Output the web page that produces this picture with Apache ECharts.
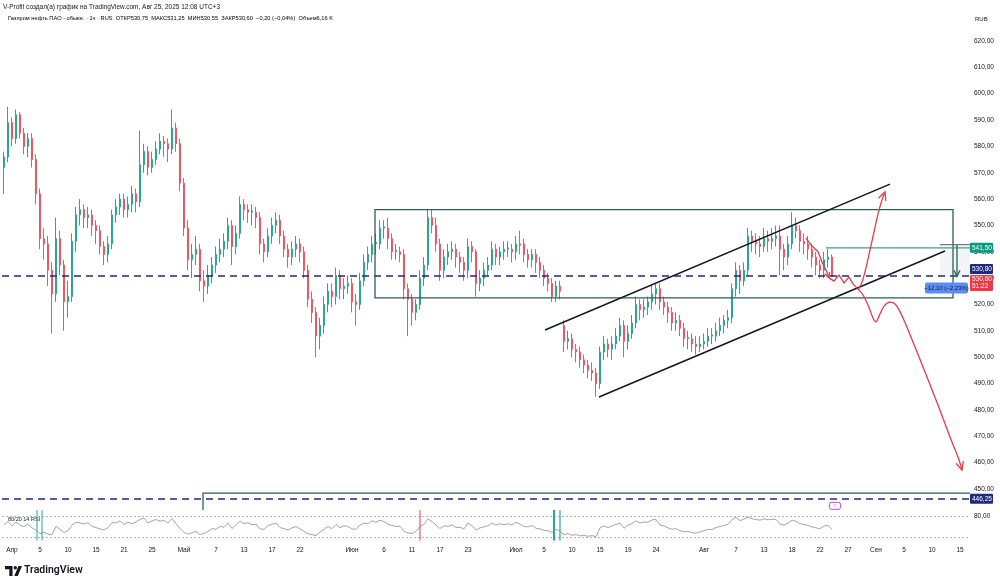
<!DOCTYPE html>
<html><head><meta charset="utf-8">
<script src="https://cdn.jsdelivr.net/npm/echarts@6/dist/echarts.min.js"></script>
<style>html,body{margin:0;padding:0;background:#fff}#c{width:1000px;height:585px}</style>
</head><body><div id="c"></div>
<script>
// ---------- DATA ----------
const SLOTS = 242; // time slots on the x axis (candles + empty future space)
const tickIdx  = [2,9,16,23,30,37,45,53,60,67,74,87,95,102,109,116,128,135,142,149,156,163,175,183,190,197,204,211,218,225,232,239];
const tickText = ['Апр','5','10','15','21','25','Май','7','13','17','22','Июн','6','11','17','23','Июл','5','10','15','19','24','Авг','7','13','18','22','27','Сен','5','10','15'];
const priceTicks = [450,460,470,480,490,500,510,520,530,540,550,560,570,580,590,600,610,620];
// candles: [open, close, low, high]
const candles = [
[572,576,562,578],[576,589,574,595],[589,583,580,591],[583,592,581,594],[592,585,583,593],[585,580,577,587],[580,583,576,585],[583,575,572,585],
[575,562,558,577],[562,545,541,564],[545,543,537,549],[543,533,527,546],[533,524,509,536],[524,545,521,553],[545,535,531,548],[535,521,510,537],
[521,523,515,529],[523,544,521,547],[544,554,540,557],[554,556,550,560],[556,553,549,558],[553,554,549,557],[554,550,546,556],[550,548,543,552],
[548,542,539,550],[542,539,535,544],[539,543,536,546],[543,554,541,556],[554,557,551,560],[557,560,554,562],[560,556,553,562],[556,558,553,561],
[558,562,555,565],[562,559,555,564],[559,573,557,586],[573,578,570,581],[578,572,569,580],[572,575,570,578],[575,579,573,582],[579,582,577,585],
[582,581,576,584],[581,579,574,583],[579,587,577,594],[587,581,578,589],[581,566,563,583],[566,549,546,568],[549,537,533,552],[537,539,530,543],
[539,541,535,546],[541,529,525,543],[529,527,521,533],[527,531,524,535],[531,535,528,538],[535,539,532,542],[539,541,536,545],[541,544,538,547],
[544,550,541,553],[550,542,535,552],[542,547,539,550],[547,558,545,561],[558,556,552,560],[556,555,551,558],[555,555.5,550,558],[555,553,549,557],
[553,543,539,555],[543,540,536,545],[540,546,538,549],[546,550,543,553],[550,552,547,555],[552,546,543,554],[546,541,538,548],[541,538,534,543],
[538,541,535,544],[541,543,538,546],[543,540,536,545],[540,533,530,542],[533,522,519,535],[522,517,513,525],[517,508,500,519],[508,512,503,515],
[512,520,509,523],[520,525,517,528],[525,523,519,528],[523,531,520,534],[531,526,522,533],[526,527,522,530],[527,528,524,531],[528,521,517,530],
[521,520,512,524],[520,529,518,532],[529,536,527,539],[536,539,533,542],[539,543,536,546],[543,543.5,539,547],[543,549,541,552],[549,549.5,545,552],
[549,545,541,553],[545,540,537,547],[540,540.5,537,543],[540,539,536,542],[539,526,522,541],[526,522,508,528],[522,517,512,524],[517,520,514,522],
[520,530,518,533],[530,535,527,538],[535,553,533,556],[553,550,547,556],[550,543,540,553],[543,533,529,545],[533,538,530,541],[538,540,535,543],
[540,541,537,544],[541,538,534,543],[538,536,532,540],[536,533,529,538],[533,542,530,545],[542,540,536,544],[540,528,523,541],[528,530,525,533],
[530,533,527,536],[533,535,531,538],[535,541,533,544],[541,538,535,543],[538,540,535,542],[540,541,537,544],[541,541.5,538,544],[541,540,536,543],
[540,543,537,546],[543,542.5,539,548],[543,539,536,545],[539,537,534,541],[537,539,534,541],[539,536,532,541],[536,533,530,538],[533,530,527,535],
[530,528,525,532],[528,523,521,530],[523,527,521,529],[527,525,522,529],[512,506,502,514],[506,507,503,510],[507,503,500,509],[503,502,498,505],
[502,499,496,504],[499,497,494,501],[497,495,492,499],[495,494,491,498],[494,490,485,496],[490,502,488,504],[502,505,499,508],[505,503,500,507],
[503,505,499,508],[505,508,503,511],[508,512,506,515],[512,506,500,514],[506,509,503,512],[509,513,507,516],[513,520,511,523],[520,518,514,522],
[518,519,515,522],[519,521,516,523],[521,524,518,527],[524,526,520,528],[526,521,518,528],[521,519,516,523],[519,517,513,521],[517,513,510,519],
[513,514,510,517],[514,511,508,516],[511,507,504,513],[507,507.5,503,510],[507,505,502,509],[505,504,501,508],[504,505,502,508],[505,506,503,509],
[506,508,504,511],[508,508.5,505,511],[508,510,506,513],[510,512,508,515],[512,514,509,516],[514,515,511,518],[515,526,513,528],[526,533,523,536],
[533,529,524,535],[529,533,527,536],[533,546,531,549],[546,544,540,548],[544,543,539,547],[543,542,538,546],[542,545,540,549],[545,544,540,548],
[544,545,541,549],[545,546,542,550],[546,541,531,550],[541,538,533,543],[538,543,535,546],[543,550,541,555],[550,548,545,553],[548,544,540,550],
[544,543,539,547],[543,541,537,546],[541,538,534,543],[538,535,531,540],[535,533,530,537],[533,537,530,540],[537,538,534,541],[538,530.6,530.55,539]
];
const rsi = [
55,64,52,63,54,50,57,46, 40,30,34,28,27, 50, 42,33,38, 54,62,60,57,61, 50,47,43,40, 47,61,60,66,56,62,58,63,
70,74,60,66,70,65,68,60,73,58, 44,34,28,32,36,27,30, 36,44,42,50,48,60,44,55,66, 58,61,55,57, 43,42, 52,56,60,
47,44,40,46, 50,43,37, 29,27,24, 34,42,50,44,56, 47,52,50,43,42, 54,60,58,66,62,68,64, 56,53,50,51, 36,32,30,36,
50,56,72,64, 54,44, 52,50,55,47,48,43,60,52, 40,46,49,52, 60,54,58,55,58,54,62,57, 50,49,53,45,43,39,38,33,42,37,
26,30,25,27,23,25,22,24,21, 46,52,47,52,56,60, 45, 54,58,66,60,63,62,69,70, 54,52,46,42,44,38,35,36,32,31,
35,38,42,41,47,50,53,56, 70,76,67,71,77, 72,70,68,72,69,71,70, 57,54,60, 68,65,58, 56,53,49,46,44,51,53,42
];
// horizontal levels
const dashedLevels = [530.80, 446.25];
const lastPrice = 530.60, greenLevel = 541.50;
// drawings, in [slot, price] coordinates
const rangeBox = [[92.75, 556.0], [237.25, 522.5]];
const upperChannel = [[135.25, 510.3], [221.5, 565.7]];
const lowerChannel = [[148.75, 484.9], [235.25, 540.3]];
const greenLine = [[205.5, 541.5], [241.5, 541.5]];
const lowerBox = [[49.75, 442.0], [49.75, 448.45], [241.5, 448.45]];
const position = {x0: 234, x1: 241.5, arrowX: 238.25, top: 542.7, bottom: 530.6, text: '−12,10 (−2,23%)'};
const redPathA = [[200.5,545.2],[202,542.2],[203.5,540.0],[204.5,536.1],[205.5,533.1],[206.25,530.1]];
const redZigzag = [[206.25,530.1],[207.5,528.9],[208.75,531.2],[210,528.2],[211.25,530.4],[212.25,527.8],[213.25,526.3]];
const redDown = [[213.25,526.3],[214.75,523.6],[216,519.8],[217.25,514.9],[218,513.4],[218.75,515.6],[220,519.4],[221.5,520.9],[223,519.8],[224.75,514.9],[227.25,505.8],[230.25,494.4],[233.5,481.9],[236.5,469.7],[238.5,462.1],[239.5,457.2]];
const redUp = [[213.5,525.5],[214.5,528.5],[215.5,533.9],[216.5,540.7],[217.5,547.5],[218.5,554.3],[219.5,559.7],[220.25,562.7]];
const eventMark = [207.75, 443.6];
const rsiSignals = [{x:8.25,c:'#22ab94',w:1},{x:9.5,c:'#22ab94',w:1},{x:104,c:'#f23645',w:1},{x:137.5,c:'#22ab94',w:2},{x:139,c:'#22ab94',w:1.2}];

// ---------- CHART ----------
const cats = Array.from({length: SLOTS}, (_, i) => String(i));
const labelMap = {}; tickIdx.forEach((k, j) => labelMap[k] = tickText[j]);
const fmt = v => v.toFixed(2).replace('.', ',');
const FONT = '"Liberation Sans", Arial, sans-serif';
const RED = '#e5394b', TEAL = '#2e5d5d', NAVY = '#1f2a7c';

function arrowHead(tip, from, len, color, w) {
  const a = Math.atan2(tip[1] - from[1], tip[0] - from[0]);
  const p1 = [tip[0] - len * Math.cos(a - 0.45), tip[1] - len * Math.sin(a - 0.45)];
  const p2 = [tip[0] - len * Math.cos(a + 0.45), tip[1] - len * Math.sin(a + 0.45)];
  return {type: 'polyline', shape: {points: [p1, tip, p2]}, style: {stroke: color, lineWidth: w, fill: null}};
}
function priceTag(y, text, bg, fg, h) {
  return [
    {type: 'rect', shape: {x: 970, y: y - 5, width: 23, height: h || 10, r: 1}, style: {fill: bg}},
    {type: 'text', style: {text: text, x: 972, y: y, fill: fg || '#fff', font: '6.5px ' + FONT, verticalAlign: 'middle'}}
  ];
}
function renderAnn(params, api) {
  const P = p => api.coord(p);
  const line = (pts, color, w, smooth) => ({type: 'polyline', shape: {points: pts.map(P), smooth: smooth || 0}, style: {stroke: color, lineWidth: w, fill: null}});
  const ch = [];
  const pTL = P([position.x0, position.top]), pBR = P([position.x1, position.bottom]);
  ch.push({type: 'rect', shape: {x: pTL[0], y: pTL[1], width: pBR[0] - pTL[0], height: pBR[1] - pTL[1]}, style: {fill: 'rgba(120,123,134,0.08)'}});
  const b0 = P(rangeBox[0]), b1 = P(rangeBox[1]);
  ch.push({type: 'rect', shape: {x: b0[0], y: b0[1], width: b1[0] - b0[0], height: b1[1] - b0[1]}, style: {stroke: TEAL, lineWidth: 1.3, fill: null}});
  ch.push(line(lowerBox, TEAL, 1.3));
  ch.push(line(greenLine, '#3f9f86', 1.3));
  ch.push(line(upperChannel, '#131722', 1.5));
  ch.push(line(lowerChannel, '#131722', 1.5));
  ch.push(line([[position.x0, position.top], [position.x1, position.top]], '#5d606b', 1));
  const aT = P([position.arrowX, position.top]), aB = P([position.arrowX, position.bottom]);
  ch.push({type: 'line', shape: {x1: aT[0], y1: aT[1], x2: aB[0], y2: aB[1]}, style: {stroke: TEAL, lineWidth: 1.3}});
  ch.push(arrowHead(aB, aT, 7, TEAL, 1.3));
  ch.push(line(redPathA, RED, 1.3, 0.2));
  ch.push(arrowHead(P(redPathA[redPathA.length - 1]), P(redPathA[redPathA.length - 2]), 6, RED, 1.3));
  ch.push(line(redZigzag, RED, 1.3));
  ch.push(line(redDown, RED, 1.3, 0.3));
  ch.push(arrowHead(P(redDown[redDown.length - 1]), P(redDown[redDown.length - 2]), 9, RED, 1.3));
  ch.push(line(redUp, RED, 1.3, 0.3));
  ch.push(arrowHead(P(redUp[redUp.length - 1]), P(redUp[redUp.length - 2]), 9, RED, 1.3));
  const lb = P([(position.x0 + position.x1) / 2 - 0.4, position.bottom]);
  ch.push({type: 'rect', shape: {x: 925, y: lb[1] + 6, width: 43, height: 11, r: 2}, style: {fill: '#5b8def'}});
  ch.push({type: 'text', style: {text: position.text, x: 946.5, y: lb[1] + 11.5, fill: '#0c1a40', font: '6px ' + FONT, align: 'center', verticalAlign: 'middle'}});
  const em = P(eventMark);
  ch.push({type: 'rect', shape: {x: em[0] - 5.5, y: em[1] - 3.5, width: 11, height: 7, r: 2}, style: {fill: '#fff', stroke: '#b04adf', lineWidth: 1}});
  ch.push({type: 'text', style: {text: '↕', x: em[0], y: em[1], fill: '#b04adf', font: '5px ' + FONT, align: 'center', verticalAlign: 'middle'}});
  const gY = P([0, greenLevel])[1];
  ch.push(...priceTag(gY, fmt(greenLevel), '#089981'));
  const nY = P([0, dashedLevels[0]])[1];
  ch.push(...priceTag(nY - 7, fmt(dashedLevels[0]), NAVY));
  const rY = P([0, lastPrice])[1];
  ch.push({type: 'rect', shape: {x: 970, y: rY - 1.5, width: 23, height: 16, r: 1}, style: {fill: '#f23645'}});
  ch.push({type: 'text', style: {text: fmt(lastPrice), x: 972, y: rY + 3, fill: '#fff', font: '6.5px ' + FONT, verticalAlign: 'middle'}});
  ch.push({type: 'text', style: {text: '51:22', x: 972, y: rY + 10, fill: '#fff', font: '6.5px ' + FONT, verticalAlign: 'middle'}});
  const lY = P([0, dashedLevels[1]])[1];
  ch.push(...priceTag(lY, fmt(dashedLevels[1]), NAVY));
  return {type: 'group', children: ch};
}
function renderRsiAnn(params, api) {
  const ch = [];
  rsiSignals.forEach(s => {
    const a = api.coord([s.x, 97]), b = api.coord([s.x, 10]);
    ch.push({type: 'line', shape: {x1: a[0], y1: a[1], x2: b[0], y2: b[1]}, style: {stroke: s.c, lineWidth: s.w}});
  });
  return {type: 'group', children: ch};
}

const chart = echarts.init(document.getElementById('c'), null, {renderer: 'canvas'});
chart.setOption({
  animation: false,
  backgroundColor: '#ffffff',
  grid: [
    {left: 2, width: 968, top: 14.65, height: 500.65},
    {left: 2, width: 968, top: 509, height: 35}
  ],
  xAxis: [
    {type: 'category', gridIndex: 0, data: cats, boundaryGap: true, show: false},
    {type: 'value', gridIndex: 0, min: -0.5, max: SLOTS - 0.5, show: false},
    {type: 'category', gridIndex: 1, data: cats, boundaryGap: true,
      axisLine: {show: false}, axisTick: {show: false}, splitLine: {show: false},
      axisLabel: {interval: (i) => labelMap[i] !== undefined, formatter: (v, i) => labelMap[i] || '',
        fontSize: 6.5, color: '#131722', margin: 3, fontFamily: FONT, hideOverlap: false}},
    {type: 'value', gridIndex: 1, min: -0.5, max: SLOTS - 0.5, show: false}
  ],
  yAxis: [
    {type: 'value', gridIndex: 0, position: 'right', min: 440, max: 630, interval: 10, scale: true,
      axisLine: {show: false}, axisTick: {show: false}, splitLine: {show: false},
      axisLabel: {margin: 4, fontSize: 6.5, color: '#131722', fontFamily: FONT, align: 'left',
        formatter: v => priceTicks.includes(Math.round(v)) ? fmt(v) : ''}},
    {type: 'value', gridIndex: 1, position: 'right', min: 0, max: 100, interval: 20,
      axisLine: {show: false}, axisTick: {show: false}, splitLine: {show: false},
      axisLabel: {margin: 4, fontSize: 6.5, color: '#131722', fontFamily: FONT, align: 'left',
        formatter: v => v === 80 ? '80,00' : ''}}
  ],
  series: [
    {type: 'candlestick', xAxisIndex: 0, yAxisIndex: 0, data: candles, barWidth: 2.4,
      itemStyle: {color: '#22ab94', color0: '#f7525f', borderColor: '#22ab94', borderColor0: '#f7525f', borderWidth: 1},
      markLine: {silent: true, symbol: 'none', label: {show: false},
        lineStyle: {color: NAVY, type: [7, 5], width: 1.5},
        data: dashedLevels.map(v => ({yAxis: v}))}},
    {type: 'custom', xAxisIndex: 1, yAxisIndex: 0, data: [[0, 500]], renderItem: renderAnn, clip: false, z: 10, silent: true},
    {type: 'line', xAxisIndex: 2, yAxisIndex: 1, data: rsi, showSymbol: false, lineStyle: {color: '#a3a6af', width: 1},
      markLine: {silent: true, symbol: 'none', label: {show: false},
        lineStyle: {color: '#b2b5be', type: [2, 2], width: 1}, data: [{yAxis: 80}, {yAxis: 20}]}},
    {type: 'custom', xAxisIndex: 3, yAxisIndex: 1, data: [[0, 50]], renderItem: renderRsiAnn, clip: false, z: 5, silent: true}
  ],
  graphic: [
    {type: 'text', left: 3, top: 3.5, style: {text: 'V-Profit создал(а) график на TradingView.com, Авг 25, 2025 12:08 UTC+3', font: '6.5px ' + FONT, fill: '#131722'}},
    {type: 'text', left: 8, top: 15, style: {
      text: '{a|Газпром нефть ПАО - обыкн. · 1ч · RUS  ОТКР}{r|530,75}{a|  МАКС}{r|531,25}{a|  МИН}{r|530,55}{a|  ЗАКР}{r|530,60}{r|  −0,20 (−0,04%)}{a|  Объем}{r|6,16 K}',
      rich: {a: {fontSize: 5.7, fontFamily: FONT, color: '#131722'}, r: {fontSize: 5.7, fontFamily: FONT, color: '#f23645'}}}},
    {type: 'text', left: 975, top: 16, style: {text: 'RUB', font: '6px ' + FONT, fill: '#131722'}},
    {type: 'text', left: 8, top: 516, style: {text: '80/20 14 RSI', font: '5.5px ' + FONT, fill: '#131722', backgroundColor: 'rgba(255,255,255,0.8)'}},
    {type: 'polygon', shape: {points: [[5,566],[12.5,566],[12.5,576],[9.3,576],[9.3,569.2],[5,569.2]]}, style: {fill: '#131722'}},
    {type: 'circle', shape: {cx: 15.3, cy: 567.7, r: 1.7}, style: {fill: '#131722'}},
    {type: 'polygon', shape: {points: [[18.5,566],[22,566],[17.8,576],[14.3,576]]}, style: {fill: '#131722'}},
    {type: 'text', left: 24, top: 565, style: {text: 'TradingView', font: '600 10.5px Roboto, ' + FONT, fill: '#131722'}}
  ]
});
</script>
</body></html>
